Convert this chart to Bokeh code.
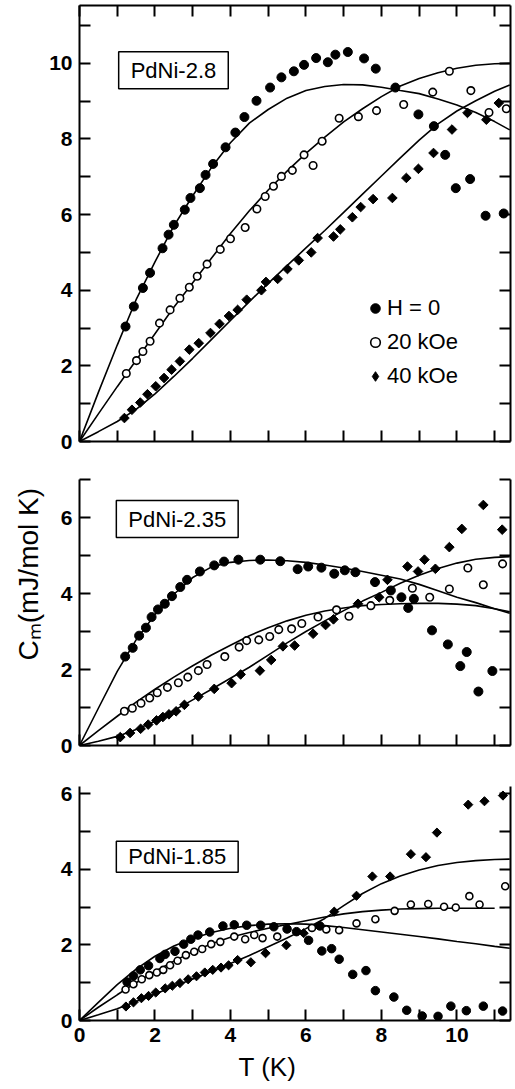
import numpy as np
from bokeh.plotting import figure
from bokeh.models import (LinearAxis, FixedTicker, Range1d, Label, Legend, LegendItem, Title,
                          CustomLabelingPolicy)
from bokeh.layouts import column
from bokeh.embed import file_html
from bokeh.resources import INLINE

# ---------------- data ----------------
T_fit = [0, 0.5, 1, 1.5, 2, 2.5, 3, 3.5, 4, 4.5, 5, 5.5, 6, 6.5, 7, 7.5, 8, 8.5, 9, 9.5, 10, 10.5, 11, 11.4]

# PdNi-2.8
fit1_h0 = [0, 1.3, 2.55, 3.75, 4.75, 5.7, 6.5, 7.25, 7.9, 8.42, 8.78, 9.08, 9.28, 9.39, 9.44, 9.43, 9.37, 9.28, 9.2, 9.06, 8.9, 8.7, 8.46, 8.24]
fit1_20 = [0, 0.73, 1.45, 2.15, 2.85, 3.55, 4.2, 4.85, 5.5, 6.1, 6.65, 7.15, 7.62, 8.05, 8.45, 8.8, 9.12, 9.4, 9.6, 9.75, 9.87, 9.95, 9.99, 10.0]
fit1_40 = [0, 0.26, 0.53, 0.85, 1.26, 1.72, 2.2, 2.7, 3.2, 3.7, 4.18, 4.65, 5.12, 5.58, 6.06, 6.54, 7.02, 7.5, 7.97, 8.4, 8.74, 9.01, 9.26, 9.43]

t1_h0 = [1.22, 1.44, 1.68, 1.87, 2.20, 2.36, 2.50, 2.79, 2.94, 3.19, 3.34, 3.54, 3.87, 4.13, 4.37, 4.69, 5.05, 5.35, 5.68, 5.95, 6.27, 6.58, 6.78, 7.11, 7.54, 7.85, 8.37, 8.98, 9.39, 9.69, 9.97, 10.35, 10.76, 11.24]
c1_h0 = [3.04, 3.57, 4.06, 4.46, 5.11, 5.47, 5.73, 6.13, 6.44, 6.70, 7.05, 7.34, 7.78, 8.17, 8.58, 9.01, 9.36, 9.63, 9.79, 9.96, 10.14, 10.03, 10.23, 10.30, 10.13, 9.86, 9.36, 8.65, 8.34, 7.58, 6.70, 6.94, 5.97, 6.03]
t1_20 = [1.24, 1.51, 1.68, 1.87, 2.12, 2.40, 2.66, 2.91, 3.12, 3.38, 3.73, 4.00, 4.39, 4.70, 4.92, 5.14, 5.35, 5.64, 5.95, 6.19, 6.43, 6.88, 7.39, 7.87, 8.59, 9.36, 9.80, 10.37, 10.85, 11.31]
c1_20 = [1.80, 2.14, 2.38, 2.65, 3.13, 3.48, 3.79, 4.08, 4.37, 4.69, 5.08, 5.36, 5.66, 6.15, 6.48, 6.75, 7.01, 7.17, 7.58, 7.30, 7.94, 8.55, 8.59, 8.75, 8.91, 9.24, 9.79, 9.28, 8.70, 8.80]
t1_40 = [1.19, 1.39, 1.61, 1.80, 2.02, 2.24, 2.44, 2.66, 2.91, 3.16, 3.47, 3.71, 3.96, 4.19, 4.43, 4.82, 4.94, 5.25, 5.51, 5.81, 6.14, 6.31, 6.73, 6.91, 7.23, 7.45, 7.78, 8.29, 8.66, 8.98, 9.38, 9.87, 10.28, 10.78, 11.11]
c1_40 = [0.62, 0.84, 1.03, 1.25, 1.46, 1.68, 1.90, 2.12, 2.43, 2.60, 2.87, 3.11, 3.32, 3.48, 3.75, 4.00, 4.22, 4.30, 4.56, 4.79, 5.00, 5.38, 5.42, 5.61, 5.93, 6.20, 6.41, 6.44, 6.97, 7.21, 7.63, 8.25, 8.69, 8.51, 8.95]

# PdNi-2.35
fit2_h0 = [0, 0.98, 1.95, 2.78, 3.45, 3.98, 4.42, 4.7, 4.82, 4.87, 4.88, 4.86, 4.82, 4.75, 4.67, 4.58, 4.48, 4.38, 4.24, 4.07, 3.9, 3.76, 3.6, 3.48]
fit2_20 = [0, 0.39, 0.77, 1.14, 1.48, 1.8, 2.1, 2.38, 2.64, 2.89, 3.1, 3.28, 3.43, 3.54, 3.62, 3.68, 3.71, 3.73, 3.74, 3.74, 3.72, 3.68, 3.6, 3.52]
fit2_40 = [0, 0.11, 0.24, 0.42, 0.64, 0.92, 1.2, 1.48, 1.77, 2.06, 2.38, 2.7, 3.0, 3.28, 3.55, 3.8, 4.03, 4.27, 4.48, 4.66, 4.8, 4.9, 4.95, 4.97]

t2_h0 = [1.21, 1.41, 1.58, 1.76, 1.91, 2.08, 2.26, 2.45, 2.67, 2.85, 3.19, 3.57, 3.83, 4.21, 4.79, 5.32, 5.78, 6.06, 6.41, 6.75, 7.03, 7.31, 7.83, 8.25, 8.53, 8.71, 8.86, 9.34, 9.76, 10.09, 10.26, 10.57, 10.94]
c2_h0 = [2.34, 2.57, 2.89, 3.10, 3.38, 3.58, 3.73, 3.93, 4.17, 4.36, 4.58, 4.74, 4.84, 4.89, 4.89, 4.85, 4.64, 4.71, 4.68, 4.52, 4.61, 4.56, 4.30, 4.08, 3.90, 3.62, 3.86, 3.03, 2.66, 2.09, 2.46, 1.42, 1.96]
t2_20 = [1.19, 1.40, 1.63, 1.86, 2.06, 2.33, 2.62, 2.87, 3.15, 3.38, 3.85, 4.23, 4.43, 4.75, 5.04, 5.28, 5.62, 5.89, 6.32, 6.81, 7.14, 7.72, 8.22, 8.82, 9.28, 9.80, 10.29, 10.70, 11.21]
c2_20 = [0.90, 0.98, 1.11, 1.25, 1.39, 1.53, 1.65, 1.80, 1.97, 2.13, 2.34, 2.59, 2.76, 2.78, 2.87, 3.05, 3.07, 3.21, 3.38, 3.57, 3.40, 3.68, 3.82, 4.14, 3.90, 4.12, 4.67, 4.23, 4.78]
t2_40 = [1.08, 1.34, 1.62, 1.82, 2.04, 2.21, 2.37, 2.56, 2.78, 3.15, 3.57, 4.03, 4.27, 4.78, 5.08, 5.39, 5.70, 6.19, 6.52, 6.73, 7.38, 7.94, 8.16, 8.69, 8.97, 9.14, 9.43, 9.80, 10.13, 10.70, 11.20]
c2_40 = [0.22, 0.33, 0.44, 0.55, 0.66, 0.75, 0.82, 0.90, 1.07, 1.29, 1.49, 1.64, 1.87, 1.97, 2.25, 2.61, 2.63, 2.94, 3.17, 3.32, 3.73, 3.90, 4.36, 4.71, 4.58, 4.89, 4.65, 5.22, 5.70, 6.33, 5.68]

# PdNi-1.85
fit3_h0 = [0, 0.48, 0.95, 1.36, 1.7, 1.97, 2.17, 2.33, 2.44, 2.51, 2.55, 2.56, 2.55, 2.51, 2.46, 2.4, 2.34, 2.28, 2.22, 2.16, 2.09, 2.03, 1.96, 1.91]
T_fit3_20 = [0, 0.5, 1, 1.5, 2, 2.5, 3, 3.5, 4, 4.5, 5, 5.5, 6, 6.5, 7, 7.5, 8, 8.5, 9, 9.5, 10, 10.5, 11]
fit3_20 = [0, 0.35, 0.68, 1.0, 1.3, 1.57, 1.82, 2.03, 2.2, 2.33, 2.44, 2.54, 2.64, 2.74, 2.82, 2.88, 2.92, 2.95, 2.96, 2.97, 2.97, 2.97, 2.97]
fit3_40 = [0, 0.15, 0.31, 0.5, 0.7, 0.9, 1.1, 1.3, 1.51, 1.72, 1.95, 2.18, 2.43, 2.7, 3.04, 3.36, 3.62, 3.82, 3.98, 4.1, 4.18, 4.23, 4.26, 4.27]

t3_h0 = [1.26, 1.43, 1.61, 1.83, 2.13, 2.27, 2.53, 2.76, 2.95, 3.14, 3.45, 3.80, 4.10, 4.43, 4.80, 5.15, 5.50, 5.75, 6.07, 6.37, 6.42, 6.68, 6.88, 7.24, 7.59, 7.84, 8.33, 8.67, 9.08, 9.50, 9.84, 10.25, 10.70, 11.21]
c3_h0 = [1.02, 1.18, 1.34, 1.45, 1.64, 1.75, 1.83, 2.02, 2.15, 2.26, 2.34, 2.50, 2.53, 2.52, 2.52, 2.48, 2.42, 2.35, 2.12, 2.50, 1.84, 1.90, 1.62, 1.22, 1.32, 0.79, 0.62, 0.27, 0.12, 0.11, 0.38, 0.26, 0.38, 0.25]
t3_20 = [1.22, 1.43, 1.65, 1.85, 2.05, 2.22, 2.40, 2.60, 2.82, 3.04, 3.25, 3.49, 3.73, 4.10, 4.39, 4.63, 4.85, 5.24, 6.16, 6.54, 6.88, 7.34, 7.84, 8.35, 8.78, 9.24, 9.66, 9.97, 10.33, 10.60, 11.28]
c3_20 = [0.82, 0.96, 1.09, 1.20, 1.27, 1.34, 1.46, 1.58, 1.73, 1.82, 1.89, 2.02, 2.08, 2.22, 2.15, 2.26, 2.18, 2.22, 2.45, 2.41, 2.39, 2.57, 2.68, 2.90, 3.07, 3.08, 3.01, 2.99, 3.29, 3.07, 3.55]
t3_40 = [1.23, 1.43, 1.64, 1.83, 2.02, 2.27, 2.46, 2.66, 2.88, 3.10, 3.32, 3.53, 3.75, 3.95, 4.19, 4.54, 4.93, 5.48, 5.94, 6.75, 7.34, 7.76, 8.23, 8.78, 9.18, 9.47, 10.30, 10.73, 11.22]
c3_40 = [0.37, 0.48, 0.59, 0.65, 0.74, 0.85, 0.92, 0.99, 1.09, 1.17, 1.27, 1.34, 1.40, 1.46, 1.60, 1.54, 1.78, 1.99, 2.31, 2.88, 3.30, 3.81, 3.81, 4.40, 4.32, 4.97, 5.71, 5.80, 5.95]

x_major = [0, 2, 4, 6, 8, 10]
x_minor = [1, 3, 5, 7, 9, 11]
panel_labels = ["PdNi-2.8", "PdNi-2.35", "PdNi-1.85"]
legend_labels = ["H = 0", "20 kOe", "40 kOe"]
y_title = "C\u2098(mJ/mol K)"
x_title = "T (K)"

FONT = "Liberation Sans"
XMAX = 11.42

NO_LABELS = CustomLabelingPolicy(code="return new Set()")


def style_axis(ax, labels):
    ax.axis_line_width = 2
    ax.axis_line_color = "black"
    ax.major_tick_in = 11
    ax.major_tick_out = 0
    ax.minor_tick_in = 11
    ax.minor_tick_out = 0
    ax.major_tick_line_width = 2
    ax.minor_tick_line_width = 2
    ax.major_tick_line_color = "black"
    ax.minor_tick_line_color = "black"
    if labels:
        ax.major_label_text_font = FONT
        ax.major_label_text_font_size = "21px"
        ax.major_label_text_font_style = "bold"
        ax.major_label_text_color = "black"
        ax.major_label_standoff = 7
    else:
        ax.major_label_text_font_size = "1px"
        ax.major_label_standoff = 0
        ax.major_label_policy = NO_LABELS


def make_panel(height, ymax, btop, bbottom, y_major, y_minor, xlabels, top_axis):
    p = figure(width=514, height=height, x_range=Range1d(0, XMAX), y_range=Range1d(0, ymax),
               output_backend="svg", toolbar_location=None,
               x_axis_location=None, y_axis_location=None,
               min_border_left=79, min_border_right=0,
               min_border_top=btop, min_border_bottom=bbottom)
    p.outline_line_color = None
    p.xgrid.visible = False
    p.ygrid.visible = False
    p.background_fill_color = "white"
    p.border_fill_color = "white"

    left = LinearAxis(ticker=FixedTicker(ticks=y_major, minor_ticks=y_minor))
    style_axis(left, True)
    p.add_layout(left, "left")

    right = LinearAxis(ticker=FixedTicker(ticks=y_major, minor_ticks=y_minor))
    style_axis(right, False)
    p.add_layout(right, "right")

    bottom = LinearAxis(ticker=FixedTicker(ticks=x_major, minor_ticks=x_minor))
    style_axis(bottom, xlabels)
    p.add_layout(bottom, "below")

    if top_axis:
        top = LinearAxis(ticker=FixedTicker(ticks=x_major, minor_ticks=x_minor))
        style_axis(top, False)
        p.add_layout(top, "above")
    return p


def draw(p, fits, pts, sizes):
    for tx, fy in fits:
        p.line(tx, fy, line_color="black", line_width=1.6)
    (ta, ca), (tb, cb), (tc, cc) = pts
    r0 = p.scatter(ta, ca, marker="circle", size=sizes[0], fill_color="black", line_color="black")
    r1 = p.scatter(tb, cb, marker="circle", size=sizes[1], fill_color="white", line_color="black", line_width=1.6)
    r2 = p.scatter(tc, cc, marker="square", angle=np.pi / 4, size=sizes[2], fill_color="black", line_color="black")
    return r0, r1, r2


def box_label(p, x, y, text, pady):
    p.add_layout(Label(x=x, y=y, text=text, text_align="center", text_baseline="middle",
                       text_font=FONT, text_font_size="22px", text_color="black",
                       border_line_color="black", border_line_width=1.5,
                       background_fill_color="white", padding=dict(x=12, y=pady)))


# Panel 1
p1 = make_panel(460, 11.53, 5, 19, [0, 2, 4, 6, 8, 10], [1, 3, 5, 7, 9, 11], False, True)
r = draw(p1, [(T_fit, fit1_h0), (T_fit, fit1_20), (T_fit, fit1_40)],
         [(t1_h0, c1_h0), (t1_20, c1_20), (t1_40, c1_40)], (9, 7.5, 6.8))
box_label(p1, 2.49, 9.82, panel_labels[0], 6)
# legend-only proxy glyph for the diamond symbol (not a data point, never visible in the plot)
r_leg_diamond = p1.scatter(x=np.array([np.nan]), y=np.array([np.nan]), marker="diamond",
                           fill_color="black", line_color="black")
legend = Legend(items=[LegendItem(label=legend_labels[0], renderers=[r[0]]),
                       LegendItem(label=legend_labels[1], renderers=[r[1]]),
                       LegendItem(label=legend_labels[2], renderers=[r_leg_diamond])],
                location=(284, 52), border_line_color=None, background_fill_alpha=0,
                padding=0, margin=0, spacing=8, glyph_width=24, glyph_height=24,
                label_standoff=0, label_height=24, label_text_font=FONT,
                label_text_font_size="22px", label_text_color="black")
p1.add_layout(legend)

# Panel 2
p2 = make_panel(305, 7.0, 19, 20, [0, 2, 4, 6], [1, 3, 5, 7], False, False)
draw(p2, [(T_fit, fit2_h0), (T_fit, fit2_20), (T_fit, fit2_40)],
     [(t2_h0, c2_h0), (t2_20, c2_20), (t2_40, c2_40)], (9, 7.5, 6.8))
box_label(p2, 2.59, 5.96, panel_labels[1], 6)
p2.add_layout(Title(text=y_title, align="left", offset=85, standoff=24,
                    vertical_align="top",
                    text_font=FONT, text_font_size="28px", text_font_style="normal",
                    text_line_height=1.0, text_color="black"), "left")

# Panel 3
p3 = make_panel(322, 6.19, 21, 67, [0, 2, 4, 6], [1, 3, 5], True, False)
draw(p3, [(T_fit, fit3_h0), (T_fit3_20, fit3_20), (T_fit, fit3_40)],
     [(t3_h0, c3_h0), (t3_20, c3_20), (t3_40, c3_40)], (8.5, 7, 6.5))
box_label(p3, 2.59, 4.33, panel_labels[2], 3)
p3.add_layout(Title(text=x_title, align="left", offset=159, standoff=10,
                    text_font=FONT, text_font_size="26px", text_font_style="normal",
                    text_line_height=1.0, text_color="black"), "below")

layout = column(p1, p2, p3, spacing=0)
open("out.html", "w").write(file_html(layout, INLINE))
